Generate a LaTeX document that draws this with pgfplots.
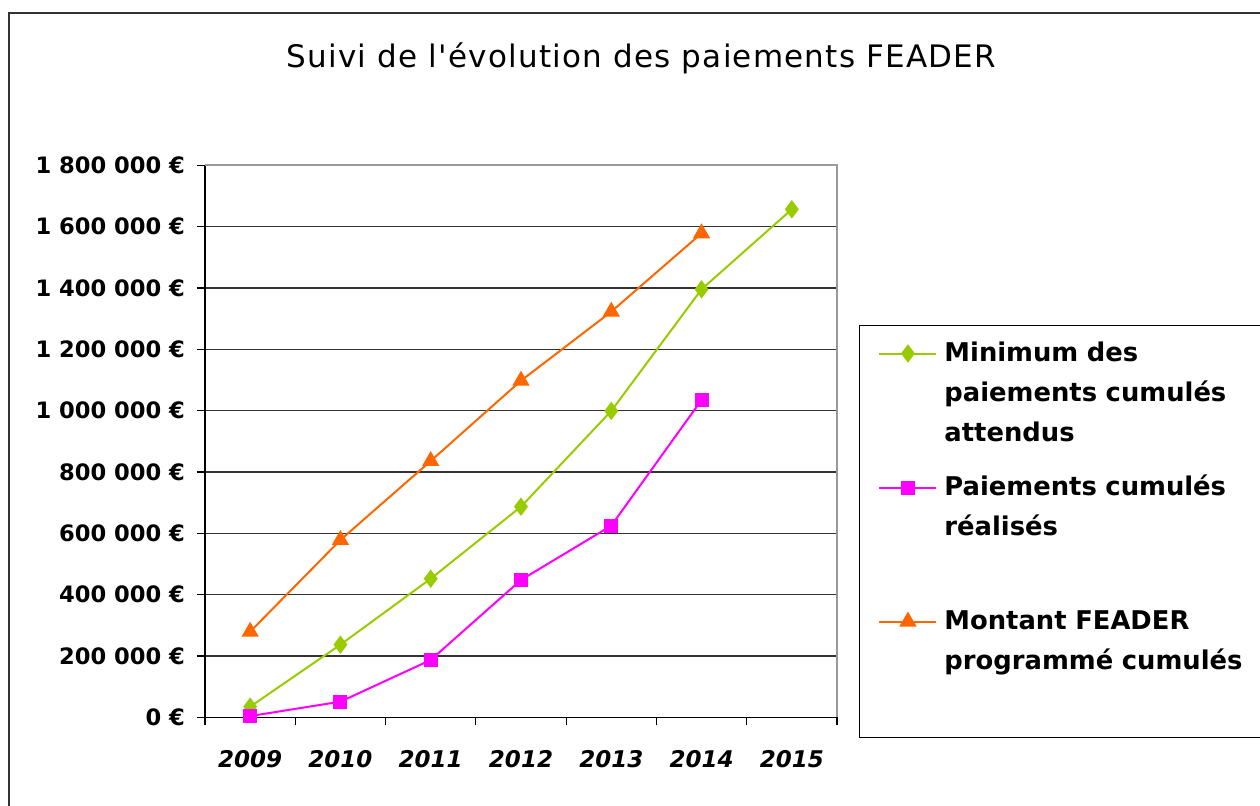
\documentclass[border=0pt]{standalone}
\usepackage{pgfplots}
\pgfplotsset{compat=1.18}
\usepackage{fontspec}
\setmainfont{DejaVu Sans}
\newfontfamily\titlefont[LetterSpace=4]{DejaVu Sans}
\definecolor{cgreen}{HTML}{99CC00}
\definecolor{cmag}{HTML}{FF00FF}
\definecolor{corange}{HTML}{FF6600}
\begin{document}
\begin{tikzpicture}
\draw[black!80, line width=0.6pt] (4.5pt,-20pt) -- (4.5pt,396pt) -- (700pt,396pt);
\node[font=\titlefont\fontsize{15.5}{18}\selectfont, anchor=base] at (320.75pt,368.5pt) {Suivi de l'évolution des paiements FEADER};
\begin{axis}[
  at={(102.5pt,43.85pt)}, anchor=south west,
  scale only axis, width=316pt, height=276pt,
  xmin=-0.5, xmax=6.5, ymin=0, ymax=1800000,
  xtick={-0.5,0.5,...,6.5},
  x tick label as interval,
  xticklabels={2009,2010,2011,2012,2013,2014,2015},
  ytick={0,200000,...,1800000},
  yticklabels={0 €,200 000 €,400 000 €,600 000 €,800 000 €,1 000 000 €,1 200 000 €,1 400 000 €,1 600 000 €,1 800 000 €},
  scaled y ticks=false,
  xtick pos=left, ytick pos=left,
  tick align=outside,
  major tick length=4pt,
  tick style={black, line width=0.6pt},
  axis line style={black, line width=0.7pt},
  ymajorgrids,
  major grid style={black!80, line width=0.6pt},
  yticklabel style={font=\fontsize{11.3}{13}\selectfont\bfseries, xshift=-2.5pt},
  xticklabel style={font=\fontsize{11.5}{13}\selectfont\bfseries\itshape, yshift=-9pt},
  clip=false,
  legend image code/.code={\draw[mark repeat=2,mark phase=2,#1] plot coordinates {(0pt,4pt) (14.25pt,4pt) (28.5pt,4pt)};},
  legend cell align=left,
  legend style={at={(1.0348,0.7107)}, anchor=north west, draw=black, line width=0.5pt,
    inner xsep=9.5pt, inner ysep=8pt, column sep=3.5pt, row sep=11pt,
    cells={anchor=base west},
    nodes={inner sep=0pt, text height=10pt, text depth=46pt, text width=170pt, align=left,
      font=\fontsize{12.9}{20}\selectfont\bfseries}},
]
\addplot[cgreen, line width=1pt, mark=diamond*, mark size=3.8pt, mark options={solid, fill=cgreen, draw=cgreen}]
  coordinates {(0,34600) (1,236800) (2,452000) (3,686800) (4,999000) (5,1395700) (6,1656600)};
\addlegendentry{Minimum des\\paiements cumulés\\attendus}
\addplot[cmag, line width=1pt, mark=square*, mark size=3pt, mark options={solid, fill=cmag, draw=cmag}]
  coordinates {(0,4000) (1,50900) (2,186900) (3,447800) (4,624800) (5,1034700)};
\addlegendentry{Paiements cumulés\\réalisés}
\addplot[corange, line width=1pt, mark=triangle*, mark size=4pt, mark options={solid, fill=corange, draw=corange}]
  coordinates {(0,279100) (1,578200) (2,835800) (3,1097700) (4,1322700) (5,1578400)};
\addlegendentry{Montant FEADER\\programmé cumulés}
\draw[black!40, line width=1pt] (rel axis cs:0,1) -- (rel axis cs:1,1) -- (rel axis cs:1,0);
\end{axis}
\pgfresetboundingbox
\useasboundingbox (0,0) rectangle (630pt,402.5pt);
\end{tikzpicture}
\end{document}
